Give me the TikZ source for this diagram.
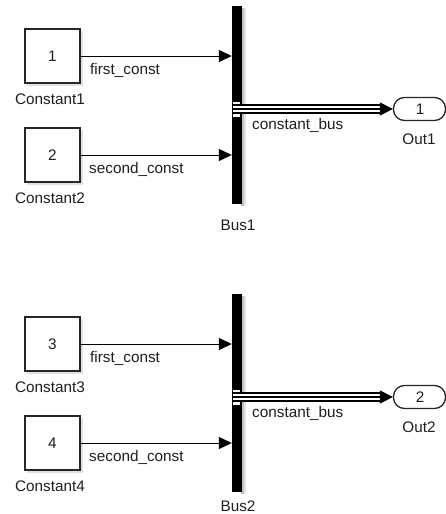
\documentclass[tikz,border=0pt]{standalone}
\usepackage{fontspec}
\setmainfont{Liberation Sans}
\usetikzlibrary{arrows.meta,calc}
\definecolor{txt}{HTML}{1E1E1E}
\begin{document}
\begin{tikzpicture}[x=1pt,y=-1pt,
  every node/.style={font=\fontsize{15.3}{18}\selectfont, text=txt, inner sep=0pt},
  constblock/.style={draw=black!85, line width=1.4pt, fill=white, minimum width=55pt, minimum height=54pt},
  busbar/.style={fill=black, draw=none, minimum width=10pt, minimum height=198pt},
  outport/.style={draw=black!85, line width=1.3pt, fill=white, rounded corners=11pt, minimum width=52pt, minimum height=23pt},
  sig/.style={line width=1pt, -{Triangle[length=13pt,width=12pt]}},
  lbl/.style={anchor=base west},
  blabel/.style={anchor=base}
]
\useasboundingbox (0,0) rectangle (446,514);

\newcommand{\busgroup}[8]{%
  % #1 offset, #2 suffix, #3 first const, #4 second const, #5 bus name, #6 out num, #7 out name, #8 bus label baseline
  \begin{scope}[shift={(0,#1)}]
    \fill[black!12] (27,31) rectangle (83,86);
    \fill[black!12] (27,130) rectangle (83,185);
    \node[constblock] (ca#2) at (52.5,56) {};
    \node[blabel] (cav#2) at (52.5,61) {#3};
    \node[blabel] (cal#2) at (50,104) {Constant#3};
    \node[constblock] (cb#2) at (52.5,155) {};
    \node[blabel] (cbv#2) at (52.5,160) {#4};
    \node[blabel] (cbl#2) at (50,203) {Constant#4};
    \fill[black!25] (241,8) rectangle (243.5,206);
    \fill[black!10] (243.5,8) rectangle (245.5,206);
    \node[busbar] (bus#2) at (237,105) {};
    \node[blabel] (busl#2) at (238,#8) {#5};
    \node[outport] (out#2) at (419.5,109) {};
    \node[blabel] (outv#2) at (420,114.5) {#6};
    \node[blabel] (outl#2) at (419,144) {#7};
    \draw[sig] (ca#2.east) -- (ca#2.east -| bus#2.west);
    \draw[sig] (cb#2.east) -- (cb#2.east -| bus#2.west);
    \node[lbl] (fc#2) at (90,74) {first\_const};
    \node[lbl] (sc#2) at (89,173) {second\_const};
    \coordinate (bo#2) at (233,109);
    \coordinate (bt#2) at ($(out#2.west)+(-11,0)$);
    \fill[white] (233,101.5) rectangle (240,116.5);
    \draw[black, line width=9.5pt] (bo#2) -- (bo#2 -| bt#2);
    \draw[white, line width=6.8pt] (bo#2) -- (bo#2 -| bt#2);
    \draw[line width=1.2pt, -{Triangle[length=13pt,width=13pt]}] (bo#2) -- (bo#2 -| out#2.west);
    \node[lbl] (cbus#2) at (252,129) {constant\_bus};
  \end{scope}}

\busgroup{0}{A}{1}{2}{Bus1}{1}{Out1}{230}
\busgroup{288}{B}{3}{4}{Bus2}{2}{Out2}{223}
\end{tikzpicture}
\end{document}
